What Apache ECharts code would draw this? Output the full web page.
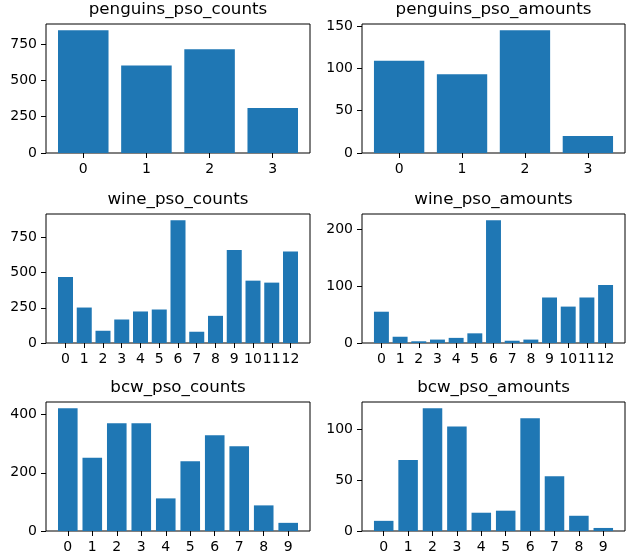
<!DOCTYPE html>
<html>
<head>
<meta charset="utf-8">
<script src="https://cdn.jsdelivr.net/npm/echarts@6/dist/echarts.min.js"></script>
<style>
  html, body { margin: 0; padding: 0; background: #fff; }
  #plot { width: 639px; height: 554px; }
</style>
</head>
<body>
<div id="plot"></div>
<script>
var titles = ['penguins_pso_counts', 'penguins_pso_amounts', 'wine_pso_counts', 'wine_pso_amounts', 'bcw_pso_counts', 'bcw_pso_amounts'];

var penguinsCounts = [845, 601, 714, 310];
var penguinsAmounts = [109, 93, 145, 20];
var wineCounts = [469, 252, 87, 167, 224, 238, 873, 80, 193, 660, 443, 429, 651];
var wineAmounts = [55, 11, 3, 6, 9, 17, 216, 4, 6, 80, 64, 80, 102];
var bcwCounts = [422, 252, 370, 370, 112, 240, 329, 291, 88, 28];
var bcwAmounts = [10, 70, 121, 103, 18, 20, 111, 54, 15, 3];

var yIntervals = [250, 50, 250, 100, 200, 50];

var allData = [penguinsCounts, penguinsAmounts, wineCounts, wineAmounts, bcwCounts, bcwAmounts];

// 网格位置（像素）
var colLeft = [46, 362];
var colWidth = [264, 263];
var rowTop = [24, 214, 402];
var rowHeight = 129;

var font = 'DejaVu Sans';
var barColor = '#1f77b4';

var chart = echarts.init(document.getElementById('plot'));

var grids = [], xAxes = [], yAxes = [], series = [], titleList = [];

allData.forEach(function (values, i) {
  var col = i % 2;
  var row = Math.floor(i / 2);
  var n = values.length;
  // matplotlib 默认 5% 边距
  var span = (n - 1) + 0.8;
  var xMin = -0.4 - 0.05 * span;
  var xMax = (n - 1) + 0.4 + 0.05 * span;
  var ticks = values.map(function (v, k) { return k; });

  grids.push({
    left: colLeft[col], top: rowTop[row], width: colWidth[col], height: rowHeight,
    outerBoundsMode: 'none',
    show: true, borderColor: '#000', borderWidth: 1, backgroundColor: 'transparent'
  });

  titleList.push({
    text: titles[i],
    left: colLeft[col] + colWidth[col] / 2,
    top: rowTop[row] - 23,
    textAlign: 'center',
    padding: 0,
    textStyle: { fontFamily: font, fontSize: 16.7, fontWeight: 'normal', color: '#000' }
  });

  xAxes.push({
    gridIndex: i,
    type: 'value',
    min: xMin,
    max: xMax,
    axisLine: { show: false, onZero: false },
    splitLine: { show: false },
    axisTick: { show: true, length: 5, customValues: ticks, lineStyle: { color: '#000' } },
    axisLabel: { customValues: ticks, fontFamily: font, fontSize: 14, color: '#000', margin: 9 }
  });

  yAxes.push({
    gridIndex: i,
    type: 'value',
    min: 0,
    max: function (v) { return v.max * 1.05; },
    interval: yIntervals[i],
    axisLine: { show: false, onZero: false },
    splitLine: { show: false },
    axisTick: { show: true, length: 5, lineStyle: { color: '#000' } },
    axisLabel: { fontFamily: font, fontSize: 14, color: '#000', margin: 9, showMaxLabel: false }
  });

  series.push({
    type: 'bar',
    xAxisIndex: i,
    yAxisIndex: i,
    data: values.map(function (v, k) { return [k, v]; }),
    barWidth: 0.8 * colWidth[col] / (xMax - xMin),
    itemStyle: { color: barColor },
    silent: true
  });
});

chart.setOption({
  animation: false,
  title: titleList,
  grid: grids,
  xAxis: xAxes,
  yAxis: yAxes,
  series: series
});
</script>
</body>
</html>
